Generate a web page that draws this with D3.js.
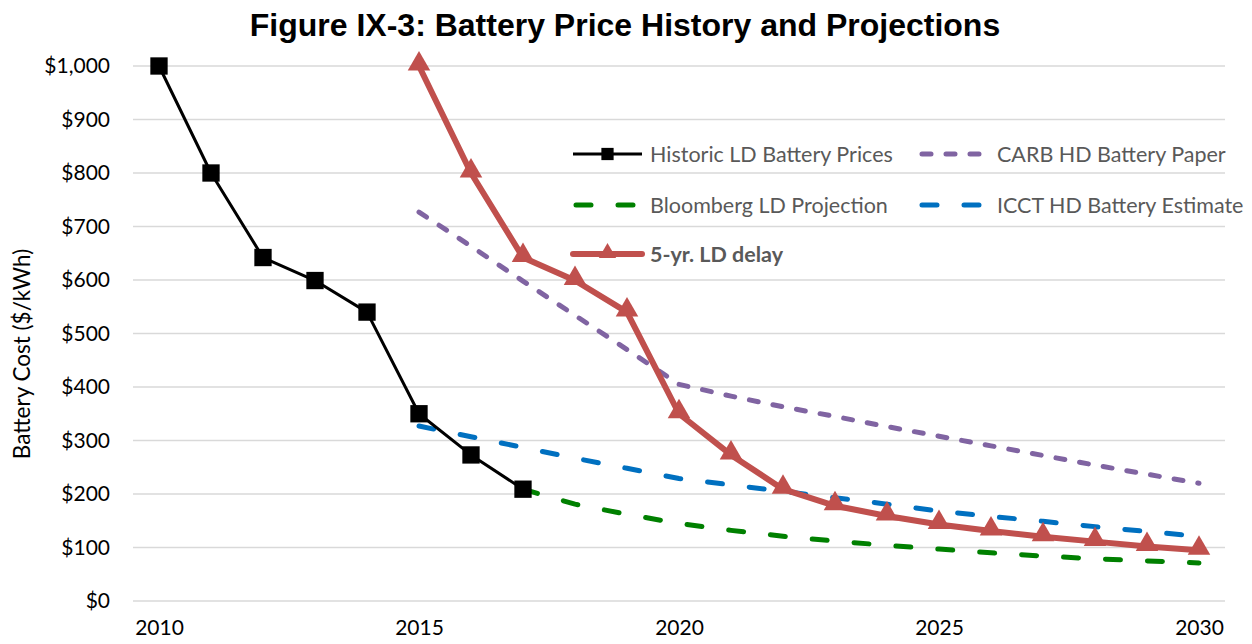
<!DOCTYPE html>
<meta charset="utf-8">
<style>
body { margin: 0; background: #fff; }
svg { font-family: Lato, "Open Sans", sans-serif; }
.grid line { stroke: #d9d9d9; stroke-width: 1.5; }
.axis text { fill: #000; font-size: 21px; }
.legend text { fill: #595959; font-size: 21.5px; }
</style>
<body>
<script src="https://cdn.jsdelivr.net/npm/d3@7"></script>
<script>
var years = d3.range(2010, 2031);
var yTicks = [0, 100, 200, 300, 400, 500, 600, 700, 800, 900, 1000];
var xTicks = [2010, 2015, 2020, 2025, 2030];

// values per year 2010..2030, null where a series has no point
var historic  = [1000, 800, 642, 599, 540, 350, 273, 209, null, null, null, null, null, null, null, null, null, null, null, null, null];
var carb      = [null, null, null, null, null, 727, 663, 598, 534, 470, 405, 383, 363, 345, 326, 308, 290, 272, 254, 237, 220];
var bloomberg = [null, null, null, null, null, null, null, 209, 181, 162, 145, 132, 121, 112, 104, 97, 90, 84, 79, 75, 71];
var icct      = [null, null, null, null, null, 327, 307, 287, 267, 248, 229, 217, 205, 193, 181, 168, 158, 149, 139, 130, 121];
var delay     = [null, null, null, null, null, 1000, 800, 642, 599, 540, 350, 273, 209, 178, 159, 143, 131, 120, 111, 102, 95];

var width = 1252, height = 644;
var svg = d3.select("body").append("svg")
  .attr("width", width)
  .attr("height", height);

var x = d3.scalePoint().domain(years).range([133, 1225]).padding(0.5);
var y = d3.scaleLinear().domain([0, 1000]).range([601, 66]);

svg.append("text")
  .attr("x", 625).attr("y", 36)
  .attr("text-anchor", "middle")
  .style("font-family", "'Liberation Sans', Arial, sans-serif")
  .style("font-weight", "bold")
  .style("font-size", "32px")
  .text("Figure IX-3: Battery Price History and Projections");

// gridlines
svg.append("g").attr("class", "grid")
  .selectAll("line").data(yTicks).enter().append("line")
  .attr("x1", 133).attr("x2", 1225)
  .attr("y1", function (d) { return y(d); })
  .attr("y2", function (d) { return y(d); });

var yAxis = svg.append("g").attr("class", "axis")
  .attr("transform", "translate(120,0)")
  .call(d3.axisLeft(y).tickValues(yTicks).tickSize(0).tickPadding(10)
    .tickFormat(function (d) { return "$" + d3.format(",")(d); }));
yAxis.select(".domain").remove();

var xAxis = svg.append("g").attr("class", "axis")
  .attr("transform", "translate(0,612)")
  .call(d3.axisBottom(x).tickValues(xTicks).tickSize(0).tickPadding(8));
xAxis.select(".domain").remove();

svg.selectAll(".axis text").style("font-family", "Lato, sans-serif");

svg.append("text")
  .attr("transform", "translate(30,354) rotate(-90)")
  .attr("text-anchor", "middle")
  .style("font-size", "22.5px")
  .text("Battery Cost ($/kWh)");

function pts(vals) {
  return years.map(function (yr, i) { return {year: yr, v: vals[i]}; })
    .filter(function (d) { return d.v !== null; });
}

var line = d3.line()
  .x(function (d) { return x(d.year); })
  .y(function (d) { return y(d.v); });

var series = [
  {name: "CARB HD Battery Paper", data: carb, color: "#8064A2", w: 5, dash: "9,15"},
  {name: "ICCT HD Battery Estimate", data: icct, color: "#0070C0", w: 5, dash: "15,27"},
  {name: "Bloomberg LD Projection", data: bloomberg, color: "#008000", w: 5, dash: "15,27"},
  {name: "Historic LD Battery Prices", data: historic, color: "#000000", w: 3, dash: null},
  {name: "5-yr. LD delay", data: delay, color: "#C0504D", w: 6, dash: null}
];

series.forEach(function (s) {
  svg.append("path")
    .datum(pts(s.data))
    .attr("d", line)
    .attr("fill", "none")
    .attr("stroke", s.color)
    .attr("stroke-width", s.w)
    .attr("stroke-linecap", s.dash ? "round" : "butt")
    .attr("stroke-linejoin", "round")
    .attr("stroke-dasharray", s.dash);
});

var sq = d3.symbol().type(d3.symbolSquare).size(300);
svg.append("g").selectAll("path").data(pts(historic)).enter().append("path")
  .attr("d", sq)
  .attr("transform", function (d) { return "translate(" + x(d.year) + "," + y(d.v) + ")"; })
  .attr("fill", "#000");

var tri = d3.symbol().type(d3.symbolTriangle).size(220);
svg.append("g").selectAll("path").data(pts(delay)).enter().append("path")
  .attr("d", tri)
  .attr("transform", function (d) { return "translate(" + x(d.year) + "," + (y(d.v) - 2) + ")"; })
  .attr("fill", "#C0504D");

// legend: two columns, sample line then label
var legendItems = [
  {s: series[3], col: 0, ly: 154, marker: "square"},
  {s: series[0], col: 1, ly: 154},
  {s: series[2], col: 0, ly: 205},
  {s: series[1], col: 1, ly: 205},
  {s: series[4], col: 0, ly: 254, marker: "triangle", bold: true}
];
var cols = [{x1: 573, x2: 642, tx: 650}, {x1: 919, x2: 987, tx: 997}];

var lg = svg.append("g").attr("class", "legend");
legendItems.forEach(function (it) {
  var c = cols[it.col];
  lg.append("line")
    .attr("x1", c.x1 + (it.s.dash ? 3 : 0)).attr("x2", c.x2 - (it.s.dash ? 3 : 0))
    .attr("y1", it.ly).attr("y2", it.ly)
    .attr("stroke", it.s.color)
    .attr("stroke-width", it.s.w)
    .attr("stroke-linecap", it.s.dash || it.marker === "triangle" ? "round" : "butt")
    .attr("stroke-dasharray", it.s.dash);
  var mx = (c.x1 + c.x2) / 2;
  if (it.marker === "square") {
    lg.append("path").attr("d", d3.symbol().type(d3.symbolSquare).size(150))
      .attr("transform", "translate(" + mx + "," + it.ly + ")").attr("fill", "#000");
  }
  if (it.marker === "triangle") {
    lg.append("path").attr("d", d3.symbol().type(d3.symbolTriangle).size(130))
      .attr("transform", "translate(" + mx + "," + (it.ly - 1) + ")").attr("fill", it.s.color);
  }
  lg.append("text")
    .attr("x", c.tx)
    .attr("y", it.ly)
    .attr("dy", "0.35em")
    .style("font-weight", it.bold ? "bold" : "normal")
    .text(it.s.name);
});
</script>
